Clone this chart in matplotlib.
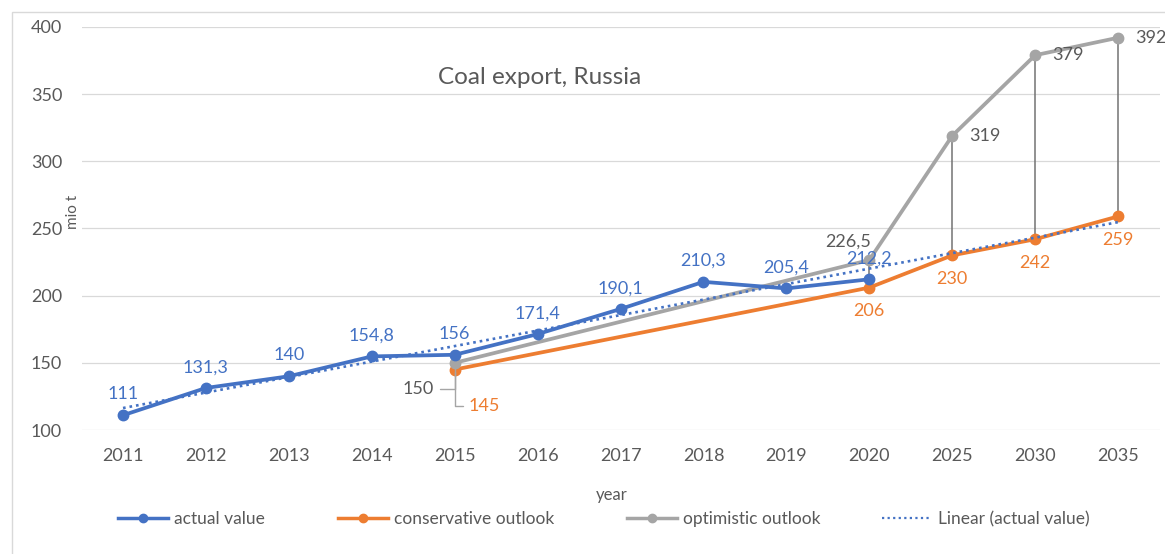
import numpy as np
import matplotlib.pyplot as plt
from matplotlib.lines import Line2D
from matplotlib.patches import Rectangle

plt.rcParams['font.family'] = ['Lato', 'DejaVu Sans']

# Data
years = ["2011", "2012", "2013", "2014", "2015", "2016", "2017", "2018", "2019", "2020",
         "2025", "2030", "2035"]
actual = [111, 131.3, 140, 154.8, 156, 171.4, 190.1, 210.3, 205.4, 212.2]
outlook_years = ["2015", "2020", "2025", "2030", "2035"]
conservative = [145, 206, 230, 242, 259]
optimistic = [150, 226.5, 319, 379, 392]

BLUE = "#4472C4"
ORANGE = "#ED7D31"
GRAY = "#A5A5A5"
TXT = "#595959"
FS = 13


def fmt(v):
    return f"{v:g}".replace(".", ",")


x_all = np.arange(len(years))
x_act = x_all[:len(actual)]
x_out = np.array([years.index(y) for y in outlook_years])

fig = plt.figure(figsize=(11.65, 5.54), dpi=100)
ax = fig.add_axes([0.070, 0.2238, 0.9253, 0.7275])

# frame of the chart area
fig.patches.append(Rectangle((12 / 1165, -0.01), 1.0, 1 - 12 / 554 + 0.01,
                             transform=fig.transFigure, fill=False,
                             edgecolor="#d9d9d9", lw=1))

# high-low lines
lows = [min(c, o, actual[i]) if i < len(actual) else min(c, o)
        for i, c, o in zip(x_out, conservative, optimistic)]
highs = [max(c, o, actual[i]) if i < len(actual) else max(c, o)
         for i, c, o in zip(x_out, conservative, optimistic)]
ax.vlines(x_out, lows, highs, color="#737373", lw=1.1, zorder=1.5)

ax.plot(x_act, actual, color=BLUE, lw=2.7, marker="o", ms=7.5, zorder=3)
ax.plot(x_out, conservative, color=ORANGE, lw=2.7, marker="o", ms=7.5, zorder=2.2)
ax.plot(x_out, optimistic, color=GRAY, lw=2.7, marker="o", ms=7.5, zorder=2.4)

# linear trend of actual values, extended over all categories
k, b = np.polyfit(x_act, actual, 1)
ax.plot(x_all, k * x_all + b, color=BLUE, lw=1.9, ls=(0, (1, 1.5)), zorder=4)

# data labels
for x, v in zip(x_act, actual):
    ax.annotate(fmt(v), (x, v), xytext=(0, 15), textcoords="offset points",
                ha="center", va="center", color=BLUE, fontsize=FS)

for x, v in zip(x_out[1:], conservative[1:]):
    ax.annotate(fmt(v), (x, v), xytext=(0, -17), textcoords="offset points",
                ha="center", va="center", color=ORANGE, fontsize=FS)
ax.annotate(fmt(conservative[0]), (x_out[0], conservative[0]), xytext=(21, -26),
            textcoords="offset points", ha="center", va="center", color=ORANGE,
            fontsize=FS,
            arrowprops=dict(arrowstyle="-", color=GRAY, lw=1,
                            shrinkA=2, shrinkB=2,
                            connectionstyle="angle,angleA=0,angleB=90,rad=0"))

for x, v in zip(x_out[2:], optimistic[2:]):
    ax.annotate(fmt(v), (x, v), xytext=(12, 0), textcoords="offset points",
                ha="left", va="center", color=TXT, fontsize=FS)
ax.annotate(fmt(optimistic[1]), (x_out[1], optimistic[1]), xytext=(-15, 13),
            textcoords="offset points", ha="center", va="center", color=TXT,
            fontsize=FS)
ax.annotate(fmt(optimistic[0]), (x_out[0], optimistic[0]), xytext=(-26, -19),
            textcoords="offset points", ha="center", va="center", color=TXT,
            fontsize=FS,
            arrowprops=dict(arrowstyle="-", color=GRAY, lw=1,
                            shrinkA=2, shrinkB=2,
                            connectionstyle="angle,angleA=0,angleB=90,rad=0"))

# axes styling
ax.set_xlim(-0.5, len(years) - 0.5)
ax.set_ylim(100, 400)
ax.set_yticks(range(100, 401, 50))
ax.set_xticks(x_all)
ax.set_xticklabels(years)
ax.grid(axis="y", color="#d9d9d9", lw=0.9)
ax.set_axisbelow(True)
for s in ax.spines.values():
    s.set_visible(False)
ax.tick_params(axis="both", length=0, labelsize=FS, labelcolor=TXT)
ax.tick_params(axis="y", pad=14)
ax.tick_params(axis="x", pad=13)

ax.text(0.425, 0.875, "Coal export, Russia", transform=ax.transAxes,
        ha="center", va="center", fontsize=17.5, color=TXT)
ax.set_ylabel("mio t", fontsize=11, color=TXT)
ax.yaxis.set_label_coords(-0.001, 0.54)
ax.set_xlabel("year", fontsize=12, color=TXT)
ax.xaxis.set_label_coords(0.492, -0.141)

# legend entries placed one by one, like the spreadsheet legend
handles = [
    Line2D([], [], color=BLUE, lw=2.5, marker="o", ms=6),
    Line2D([], [], color=ORANGE, lw=2.5, marker="o", ms=6),
    Line2D([], [], color=GRAY, lw=2.5, marker="o", ms=6),
    Line2D([], [], color=BLUE, lw=1.6, ls=(0, (1, 1.5))),
]
labels = ["actual value", "conservative outlook", "optimistic outlook",
          "Linear (actual value)"]
starts = [118, 338, 627, 882]
for h, lab, x0 in zip(handles, labels, starts):
    fig.legend([h], [lab], loc="center left", bbox_to_anchor=(x0 / 1165, 0.063),
               frameon=False, fontsize=12.5, labelcolor=TXT, borderpad=0,
               borderaxespad=0, handlelength=2.9, handletextpad=0.3)

fig.savefig("out.png", dpi=100)
